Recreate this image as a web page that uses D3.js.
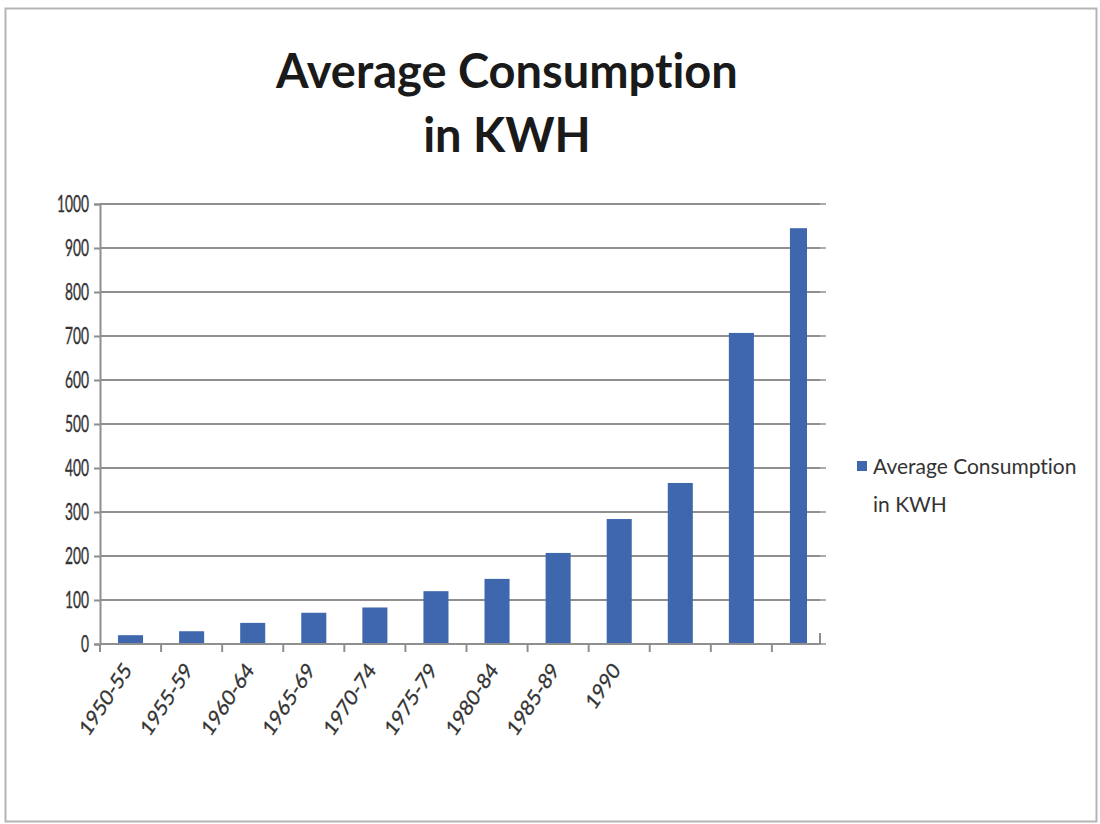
<!DOCTYPE html>
<html>
<head>
<meta charset="utf-8">
<script src="https://cdn.jsdelivr.net/npm/d3@7"></script>
<style>
  html, body { margin: 0; padding: 0; background: #fff; }
  svg { display: block; }
  text { font-family: Lato, "Open Sans", sans-serif; font-variant-ligatures: none; font-feature-settings: "liga" 0; }
</style>
</head>
<body>
<svg id="chart" width="1100" height="824"></svg>
<script>
// Average household consumption per period (KWH)
const categories = ["1950-55", "1955-59", "1960-64", "1965-69", "1970-74", "1975-79",
                    "1980-84", "1985-89", "1990", "", " ", "  "];
const values = [20, 29, 48, 71, 83, 120, 148, 207, 284, 366, 707, 945];
const yTicks = [0, 100, 200, 300, 400, 500, 600, 700, 800, 900, 1000];
const titleLines = ["Average Consumption", "in KWH"];
const legendLines = ["Average Consumption", "in KWH"];

const barColor = "#3f67ae";
const gridColor = "#8f8f8f";
const textColor = "#333";
const narrowY = 0.6;    // horizontal squeeze of the value labels
const narrowX = 0.85;   // horizontal squeeze of the slanted category labels

const svg = d3.select("#chart");

// outer chart frame
svg.append("rect")
  .attr("x", 5.5).attr("y", 8.5).attr("width", 1091).attr("height", 813)
  .attr("fill", "#fff").attr("stroke", "#b5b5b5").attr("stroke-width", 2);

// title
svg.append("text")
  .attr("x", 507).attr("y", 88)
  .attr("text-anchor", "middle")
  .attr("font-size", 47).attr("font-weight", 700).attr("fill", "#1a1a1a")
  .selectAll("tspan").data(titleLines).join("tspan")
  .attr("x", 507).attr("dy", (d, i) => i === 0 ? 0 : 64)
  .text(d => d);

const plotLeft = 100, plotRight = 820, plotTop = 204, plotBottom = 644;

const x = d3.scaleBand().domain(categories).range([plotLeft, 833]).padding(0);
const y = d3.scaleLinear().domain([0, 1000]).range([plotBottom, plotTop]);

// horizontal gridlines
svg.append("g")
  .selectAll("line").data(yTicks).join("line")
  .attr("x1", plotLeft).attr("x2", plotRight)
  .attr("y1", d => y(d)).attr("y2", d => y(d))
  .attr("stroke", gridColor).attr("stroke-width", 2);

// short marks on the right edge
svg.append("g")
  .selectAll("line").data(yTicks).join("line")
  .attr("x1", plotRight).attr("x2", plotRight + 6)
  .attr("y1", d => y(d)).attr("y2", d => y(d))
  .attr("stroke", gridColor).attr("stroke-width", 1.5);
svg.append("line")
  .attr("x1", plotRight).attr("x2", plotRight)
  .attr("y1", y(25)).attr("y2", y(0))
  .attr("stroke", "#666").attr("stroke-width", 1.5);

// bars
svg.append("clipPath").attr("id", "plotClip")
  .append("rect").attr("x", plotLeft).attr("y", 0)
  .attr("width", plotRight - plotLeft - 13).attr("height", plotBottom);
const barW = x.bandwidth() * 0.41;
svg.append("g").attr("clip-path", "url(#plotClip)")
  .selectAll("rect").data(values).join("rect")
  .attr("x", (d, i) => x(categories[i]) + x.bandwidth() / 2 - barW / 2)
  .attr("width", barW)
  .attr("y", d => y(d))
  .attr("height", d => y(0) - y(d))
  .attr("fill", barColor);

// y axis
const yAxis = svg.append("g")
  .attr("transform", `translate(${plotLeft},0)`)
  .call(d3.axisLeft(y).tickValues(yTicks).tickSize(6).tickFormat(d3.format("d")));
yAxis.select(".domain").attr("stroke", gridColor).attr("stroke-width", 2);
yAxis.selectAll(".tick line").attr("stroke", gridColor).attr("stroke-width", 2);
yAxis.selectAll(".tick text")
  .attr("font-size", 23).attr("fill", textColor)
  .attr("stroke", textColor).attr("stroke-width", 0.4)
  .attr("font-family", "Lato, sans-serif")
  .attr("x", -11 / narrowY)
  .attr("transform", `scale(${narrowY},1)`);

// x axis baseline
svg.append("line")
  .attr("x1", plotLeft).attr("x2", plotRight)
  .attr("y1", plotBottom).attr("y2", plotBottom)
  .attr("stroke", gridColor).attr("stroke-width", 2);

// category boundary ticks
svg.append("g")
  .selectAll("line").data(categories).join("line")
  .attr("x1", d => x(d)).attr("x2", d => x(d))
  .attr("y1", plotBottom).attr("y2", plotBottom + 8)
  .attr("stroke", gridColor).attr("stroke-width", 2);

// slanted category labels
svg.append("g")
  .selectAll("text").data(categories).join("text")
  .attr("transform", d => `translate(${x(d) + x.bandwidth() / 2 - 3},${plotBottom + 22}) scale(${narrowX},1) rotate(-52)`)
  .attr("text-anchor", "end")
  .attr("dy", "0.35em")
  .attr("font-size", 22).attr("fill", textColor)
  .attr("stroke", textColor).attr("stroke-width", 0.3)
  .text(d => d.trim());

// legend
const legend = svg.append("g");
legend.append("rect")
  .attr("x", 857).attr("y", 461).attr("width", 10).attr("height", 10)
  .attr("fill", barColor);
legend.append("text")
  .attr("font-size", 21).attr("fill", textColor)
  .selectAll("tspan").data(legendLines).join("tspan")
  .attr("x", 873).attr("y", (d, i) => 474 + i * 38)
  .text(d => d);
</script>
</body>
</html>
